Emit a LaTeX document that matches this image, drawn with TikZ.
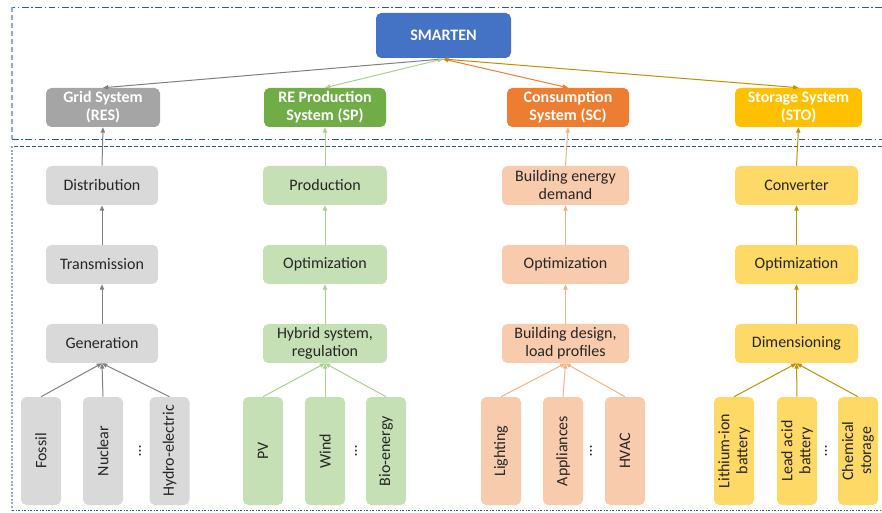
\documentclass[tikz,border=0pt]{standalone}
\usepackage{fontspec}
\setmainfont{Carlito}
\usetikzlibrary{arrows.meta}
\definecolor{cblue}{HTML}{4472C4}
\definecolor{gdark}{HTML}{A5A5A5}
\definecolor{glight}{HTML}{D9D9D9}
\definecolor{gline}{HTML}{808080}
\definecolor{grdark}{HTML}{70AD47}
\definecolor{grlight}{HTML}{C5E0B4}
\definecolor{grline}{HTML}{A9D18E}
\definecolor{odark}{HTML}{ED7D31}
\definecolor{olight}{HTML}{F8CBAD}
\definecolor{oline}{HTML}{F4B183}
\definecolor{ydark}{HTML}{FFC000}
\definecolor{ylight}{HTML}{FFD966}
\definecolor{yline}{HTML}{BF9000}
\definecolor{txt}{HTML}{262626}
\definecolor{fdark}{HTML}{2F5597}
\definecolor{flight}{HTML}{8FAADC}
\tikzset{
  base/.style={rounded corners=4pt, inner sep=1pt, align=center, font=\fontsize{12}{13.5}\selectfont, text=txt},
  top/.style={base, fill=#1, text=white, font=\fontsize{12}{13.5}\selectfont\bfseries, minimum height=29.25pt},
  lvl/.style={base, fill=#1, minimum height=29.25pt},
  leaf/.style={base, fill=#1, rotate=90, minimum width=81pt, minimum height=30pt},
  dots/.style={rotate=90, font=\fontsize{12}{13}\selectfont, text=txt, inner sep=0pt},
  con/.style={draw=#1, line width=0.75pt, -{Triangle[length=4pt,width=3.2pt]}},
  cond/.style={draw=#1, line width=0.75pt, {Triangle[length=4pt,width=3.2pt]}-{Triangle[length=4pt,width=3.2pt]}},
  fdd/.style={fdark, line width=0.6pt, dash pattern=on 5pt off 2pt on 1pt off 2pt},
  fds/.style={fdark, line width=0.6pt, dash pattern=on 3pt off 1.5pt},
  fdo/.style={fdark, line width=0.6pt, dash pattern=on 1.5pt off 1.2pt on 0.6pt off 1.2pt},
}
\begin{document}
\begin{tikzpicture}[x=0.75pt,y=-0.75pt]
\useasboundingbox (0,0) rectangle (882,513);
% frames
\draw[fdd] (882,7) -- (12,7);
\draw[flight, line width=1pt, dash pattern=on 4pt off 2pt] (12,7) -- (12,139);
\draw[fdd] (12,139) -- (882,139);
\draw[fds] (882,146) -- (12,146);
\draw[flight, line width=1pt, dash pattern=on 1.5pt off 1.2pt] (12,146) -- (12,510);
\draw[fdo] (12,510) -- (882,510);
% top
\node[top=cblue, minimum width=101.25pt, minimum height=33.75pt] (sm) at (443.5,35.5) {SMARTEN};
\node[top=gdark, minimum width=85.5pt] (grid) at (103,107.5) {Grid System\\(RES)};
\node[top=grdark, minimum width=91.5pt] (re) at (325,107.5) {RE Production\\System (SP)};
\node[top=odark, minimum width=91.5pt] (cons) at (568,107.5) {Consumption\\System (SC)};
\node[top=ydark, minimum width=95.25pt] (sto) at (798.5,107.5) {Storage System\\(STO)};
% gray column
\node[lvl=glight, minimum width=84pt] (g2) at (102,185.5) {Distribution};
\node[lvl=glight, minimum width=84pt] (g3) at (102,264.5) {Transmission};
\node[lvl=glight, minimum width=84pt] (g4) at (102,343.5) {Generation};
\node[leaf=glight] (gl1) at (41,451) {Fossil};
\node[leaf=glight] (gl2) at (103,451) {Nuclear};
\node[leaf=glight] (gl3) at (169.5,451) {Hydro-electric};
\node[dots] (gd) at (140,451) {…};
% green column
\node[lvl=grlight, minimum width=93pt] (r2) at (325,185.5) {Production};
\node[lvl=grlight, minimum width=93pt] (r3) at (325,264.5) {Optimization};
\node[lvl=grlight, minimum width=93pt] (r4) at (325,343.5) {Hybrid system,\\regulation};
\node[leaf=grlight] (rl1) at (263,451) {PV};
\node[leaf=grlight] (rl2) at (325,451) {Wind};
\node[leaf=grlight] (rl3) at (386,451) {Bio-energy};
\node[dots] (rd) at (356,451) {…};
% orange column
\node[lvl=olight, minimum width=95.25pt] (o2) at (565.5,185.5) {Building energy\\demand};
\node[lvl=olight, minimum width=95.25pt] (o3) at (565.5,264.5) {Optimization};
\node[lvl=olight, minimum width=95.25pt] (o4) at (565.5,343.5) {Building design,\\load profiles};
\node[leaf=olight] (ol1) at (501,451) {Lighting};
\node[leaf=olight] (ol2) at (563,451) {Appliances};
\node[leaf=olight] (ol3) at (625,451) {HVAC};
\node[dots] (od) at (591,451) {…};
% yellow column
\node[lvl=ylight, minimum width=92.25pt] (y2) at (796.5,185.5) {Converter};
\node[lvl=ylight, minimum width=92.25pt] (y3) at (796.5,264.5) {Optimization};
\node[lvl=ylight, minimum width=92.25pt] (y4) at (796.5,343.5) {Dimensioning};
\node[leaf=ylight] (yl1) at (734,451) {Lithium-ion\\battery};
\node[leaf=ylight] (yl2) at (797,451) {Lead acid\\battery};
\node[leaf=ylight] (yl3) at (858,451) {Chemical\\storage};
\node[dots] (yd) at (826,451) {…};
% SMARTEN connectors
\coordinate (smb) at (443,59);
\draw[con=gline] (smb) -- (grid.north);
\draw[cond=grline] (smb) -- (re.north);
\draw[cond=odark] (smb) -- (cons.north);
\draw[cond=yline] (smb) -- (sto.north);
% vertical chains
\draw[con=gline] (g2.north) -- (grid.south);
\draw[con=gline] (g3.north) -- (g2.south);
\draw[con=gline] (g4.north) -- (g3.south);
\draw[con=grline] (r2.north) -- (re.south);
\draw[con=grline] (r3.north) -- (r2.south);
\draw[con=grline] (r4.north) -- (r3.south);
\draw[con=oline] (o2.north) -- (cons.south);
\draw[con=oline] (o3.north) -- (o2.south);
\draw[con=oline] (o4.north) -- (o3.south);
\draw[con=yline] (y2.north) -- (sto.south);
\draw[con=yline] (y3.north) -- (y2.south);
\draw[con=yline] (y4.north) -- (y3.south);
% leaves
\foreach \l in {gl1,gl2,gl3} \draw[con=gline] (\l.east) -- (g4.south);
\foreach \l in {rl1,rl2,rl3} \draw[con=grline] (\l.east) -- (r4.south);
\foreach \l in {ol1,ol2,ol3} \draw[con=oline] (\l.east) -- (o4.south);
\foreach \l in {yl1,yl2,yl3} \draw[con=yline] (\l.east) -- (y4.south);
\end{tikzpicture}
\end{document}
